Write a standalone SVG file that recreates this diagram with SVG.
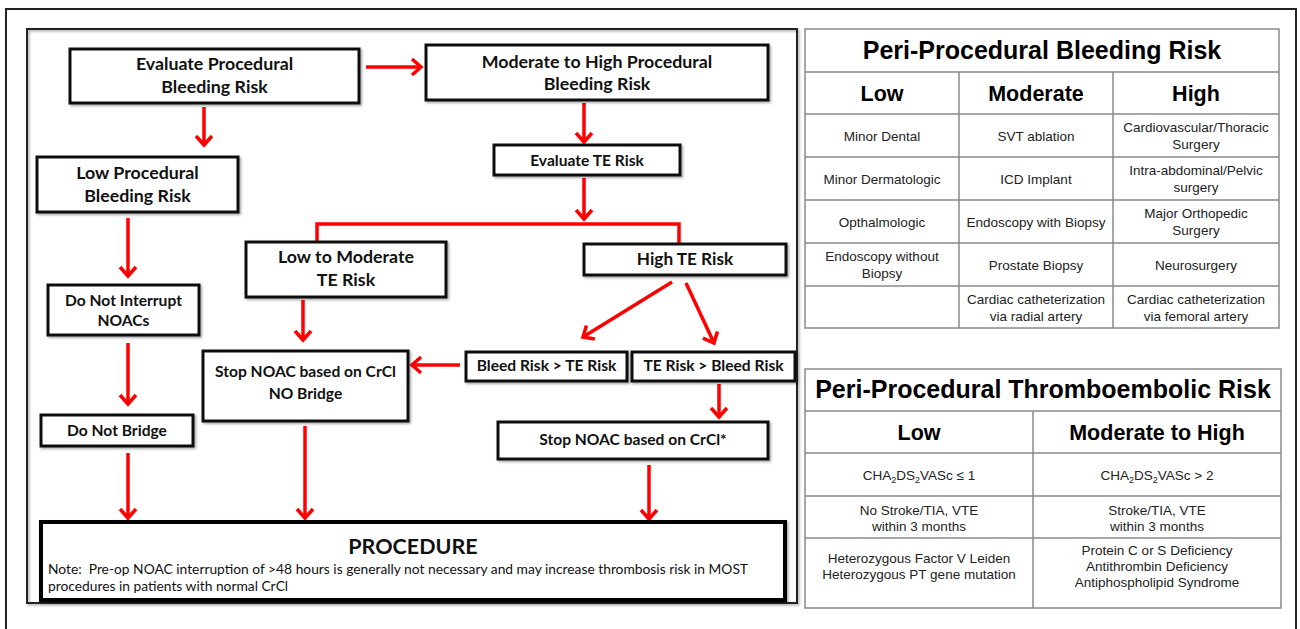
<svg xmlns="http://www.w3.org/2000/svg" width="1300" height="629" viewBox="0 0 1300 629">
<style>
.box{fill:#fff;stroke:#111;stroke-width:3;filter:url(#sh)}
.ft{font-family:Lato,"Open Sans",sans-serif;font-weight:bold;fill:#111;text-anchor:middle}
.f16{font-size:17.8px}
.f15{font-size:15.6px}
.conn{fill:none;stroke:#f00;stroke-width:3.5}
.tb{fill:#fff;stroke:#8a8a8a;stroke-width:1.5}
.tl{stroke:#8a8a8a;stroke-width:1.5}
.tt{font-family:"Liberation Sans",Arial,sans-serif;font-weight:bold;fill:#000;text-anchor:middle;font-size:25px}
.th{font-family:"Liberation Sans",Arial,sans-serif;font-weight:bold;fill:#000;text-anchor:middle;font-size:21.5px}
.tc{font-family:"Liberation Sans",Arial,sans-serif;fill:#222;text-anchor:middle;font-size:13.5px}
.note{font-family:Lato,"Open Sans",sans-serif;font-size:13.8px;fill:#111;white-space:pre}
</style>
<defs>
<filter id="sh" x="-5%" y="-5%" width="115%" height="130%">
<feDropShadow dx="1.5" dy="1.5" stdDeviation="1" flood-color="#000" flood-opacity="0.35"/>
</filter>
<marker id="ah" markerUnits="userSpaceOnUse" markerWidth="24" markerHeight="24" viewBox="0 0 24 24" refX="14" refY="12" orient="auto">
<path d="M5,4 L14,12 L5,20" fill="none" stroke="#f00" stroke-width="3.5"/>
</marker>
</defs>
<rect width="1300" height="629" fill="#fff"/>
<rect x="6" y="9" width="1290" height="640" fill="none" stroke="#222" stroke-width="2"/>
<rect x="27" y="29" width="770" height="574" fill="none" stroke="#222" stroke-width="2" filter="url(#sh)"/>

<g id="connectors">
<path class="conn" d="M366,67 L421,67" marker-end="url(#ah)"/>
<path class="conn" d="M204,107 L204,145" marker-end="url(#ah)"/>
<path class="conn" d="M584,103 L584,142" marker-end="url(#ah)"/>
<path class="conn" d="M584,178 L584,219" marker-end="url(#ah)"/>
<path class="conn" d="M317,242 L317,224 L679,224 L679,244"/>
<path class="conn" d="M128,218 L128,276" marker-end="url(#ah)"/>
<path class="conn" d="M128,343 L128,404" marker-end="url(#ah)"/>
<path class="conn" d="M128,453 L128,518" marker-end="url(#ah)"/>
<path class="conn" d="M303,300 L303,340" marker-end="url(#ah)"/>
<path class="conn" d="M305,426 L305,518" marker-end="url(#ah)"/>
<path class="conn" d="M672,282 L583,337" marker-end="url(#ah)"/>
<path class="conn" d="M686,283 L714,343" marker-end="url(#ah)"/>
<path class="conn" d="M460,365 L412,365" marker-end="url(#ah)"/>
<path class="conn" d="M719,384 L719,417" marker-end="url(#ah)"/>
<path class="conn" d="M649,465 L649,519" marker-end="url(#ah)"/>
</g>

<g id="evalBleed"><rect class="box" x="70" y="49" width="289" height="54"/>
<text class="ft f16" x="214.5" y="70">Evaluate Procedural</text><text class="ft f16" x="214.5" y="93">Bleeding Risk</text></g>
<g id="modHighBleed"><rect class="box" x="426" y="45" width="342" height="55"/>
<text class="ft f16" x="597" y="68">Moderate to High Procedural</text><text class="ft f16" x="597" y="90">Bleeding Risk</text></g>
<g id="lowBleed"><rect class="box" x="37" y="157" width="201" height="55"/>
<text class="ft f16" x="137.5" y="179">Low Procedural</text><text class="ft f16" x="137.5" y="202">Bleeding Risk</text></g>
<g id="evalTE"><rect class="box" x="494" y="145" width="186" height="30"/>
<text class="ft f15" x="587" y="166">Evaluate TE Risk</text></g>
<g id="lowModTE"><rect class="box" x="246" y="242" width="200" height="55"/>
<text class="ft f16" x="346" y="263">Low to Moderate</text><text class="ft f16" x="346" y="286">TE Risk</text></g>
<g id="highTE"><rect class="box" x="584" y="244" width="202" height="31"/>
<text class="ft" font-size="17.2" x="685" y="265">High TE Risk</text></g>
<g id="doNotInterrupt"><rect class="box" x="48" y="285" width="151" height="50"/>
<text class="ft f15" x="123.5" y="306">Do Not Interrupt</text><text class="ft f15" x="123.5" y="326">NOACs</text></g>
<g id="stopNoBridge"><rect class="box" x="203" y="351" width="205" height="70"/>
<text class="ft f15" x="305.5" y="377">Stop NOAC based on CrCl</text><text class="ft f15" x="305.5" y="399">NO Bridge</text></g>
<g id="bleedGtTE"><rect class="box" x="466" y="352" width="161" height="29"/>
<text class="ft f15" x="546.5" y="371">Bleed Risk &gt; TE Risk</text></g>
<g id="teGtBleed"><rect class="box" x="632" y="352" width="163" height="29"/>
<text class="ft f15" x="713.5" y="371">TE Risk &gt; Bleed Risk</text></g>
<g id="doNotBridge"><rect class="box" x="41" y="415" width="152" height="31"/>
<text class="ft f15" x="117" y="436">Do Not Bridge</text></g>
<g id="stopStar"><rect class="box" x="498" y="422" width="270" height="37"/>
<text class="ft f15" x="633" y="445">Stop NOAC based on CrCl*</text></g>
<g id="procedure"><rect x="41" y="522" width="744" height="78" fill="#fff" stroke="#000" stroke-width="4" filter="url(#sh)"/>
<text class="ft" x="413" y="554" font-size="21.5">PROCEDURE</text>
<text class="note" x="48" y="574">Note:  Pre-op NOAC interruption of &gt;48 hours is generally not necessary and may increase thrombosis risk in MOST</text>
<text class="note" x="48" y="591">procedures in patients with normal CrCl</text></g>

<g id="bleedTable">
<rect class="tb" x="805" y="29" width="474" height="299"/>
<line class="tl" x1="805" y1="72" x2="1279" y2="72"/>
<line class="tl" x1="805" y1="114" x2="1279" y2="114"/>
<line class="tl" x1="805" y1="157" x2="1279" y2="157"/>
<line class="tl" x1="805" y1="200" x2="1279" y2="200"/>
<line class="tl" x1="805" y1="243" x2="1279" y2="243"/>
<line class="tl" x1="805" y1="286" x2="1279" y2="286"/>
<line class="tl" x1="959" y1="72" x2="959" y2="328"/>
<line class="tl" x1="1113" y1="72" x2="1113" y2="328"/>
<text class="tt" x="1042" y="59">Peri-Procedural Bleeding Risk</text>
<text class="th" x="882" y="101">Low</text>
<text class="th" x="1036" y="101">Moderate</text>
<text class="th" x="1196" y="101">High</text>
<text class="tc" x="882" y="140.5">Minor Dental</text>
<text class="tc" x="1036" y="140.5">SVT ablation</text>
<text class="tc" x="1196" y="132">Cardiovascular/Thoracic</text>
<text class="tc" x="1196" y="149">Surgery</text>
<text class="tc" x="882" y="183.5">Minor Dermatologic</text>
<text class="tc" x="1036" y="183.5">ICD Implant</text>
<text class="tc" x="1196" y="175">Intra-abdominal/Pelvic</text>
<text class="tc" x="1196" y="192">surgery</text>
<text class="tc" x="882" y="226.5">Opthalmologic</text>
<text class="tc" x="1036" y="226.5">Endoscopy with Biopsy</text>
<text class="tc" x="1196" y="218">Major Orthopedic</text>
<text class="tc" x="1196" y="235">Surgery</text>
<text class="tc" x="882" y="261">Endoscopy without</text>
<text class="tc" x="882" y="278">Biopsy</text>
<text class="tc" x="1036" y="269.5">Prostate Biopsy</text>
<text class="tc" x="1196" y="269.5">Neurosurgery</text>
<text class="tc" x="1036" y="303.5">Cardiac catheterization</text>
<text class="tc" x="1036" y="320.5">via radial artery</text>
<text class="tc" x="1196" y="303.5">Cardiac catheterization</text>
<text class="tc" x="1196" y="320.5">via femoral artery</text>
</g>

<g id="teTable">
<rect class="tb" x="805" y="369" width="476" height="239"/>
<line class="tl" x1="805" y1="411" x2="1281" y2="411"/>
<line class="tl" x1="805" y1="453" x2="1281" y2="453"/>
<line class="tl" x1="805" y1="496" x2="1281" y2="496"/>
<line class="tl" x1="805" y1="538" x2="1281" y2="538"/>
<line class="tl" x1="1033" y1="411" x2="1033" y2="608"/>
<text class="tt" x="1043" y="398" font-size="24.7">Peri-Procedural Thromboembolic Risk</text>
<text class="th" x="919" y="440">Low</text>
<text class="th" x="1157" y="440">Moderate to High</text>
<text class="tc" x="919" y="479.5">CHA<tspan font-size="9" dy="3">2</tspan><tspan dy="-3">DS</tspan><tspan font-size="9" dy="3">2</tspan><tspan dy="-3">VASc ≤ 1</tspan></text>
<text class="tc" x="1157" y="479.5">CHA<tspan font-size="9" dy="3">2</tspan><tspan dy="-3">DS</tspan><tspan font-size="9" dy="3">2</tspan><tspan dy="-3">VASc &gt; 2</tspan></text>
<text class="tc" x="919" y="515">No Stroke/TIA, VTE</text>
<text class="tc" x="919" y="531">within 3 months</text>
<text class="tc" x="1157" y="515">Stroke/TIA, VTE</text>
<text class="tc" x="1157" y="531">within 3 months</text>
<text class="tc" x="919" y="563">Heterozygous Factor V Leiden</text>
<text class="tc" x="919" y="579">Heterozygous PT gene mutation</text>
<text class="tc" x="1157" y="555">Protein C or S Deficiency</text>
<text class="tc" x="1157" y="571">Antithrombin Deficiency</text>
<text class="tc" x="1157" y="587">Antiphospholipid Syndrome</text>
</g>
</svg>
